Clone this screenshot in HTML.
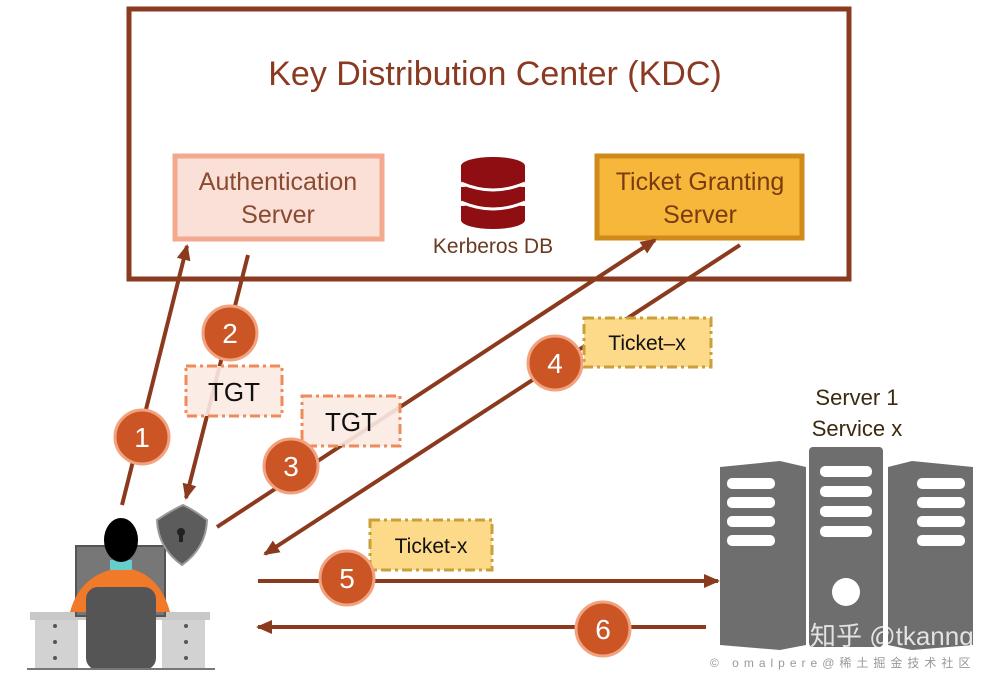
<!DOCTYPE html>
<html><head><meta charset="utf-8"><style>
html,body{margin:0;padding:0;background:#fff}
svg{display:block}
text{font-family:"Liberation Sans",sans-serif}
</style></head><body>
<svg width="1001" height="675" viewBox="0 0 1001 675" xmlns="http://www.w3.org/2000/svg">
<defs>
<marker id="ah" markerWidth="16" markerHeight="16" refX="14" refY="8" orient="auto" markerUnits="userSpaceOnUse" viewBox="0 0 16 16">
<path d="M0,1 L16,8 L0,15 z" fill="#8b3a1e"/></marker>
</defs>
<rect x="129" y="9" width="720" height="270" fill="none" stroke="#8b3a22" stroke-width="5"/>
<text x="495" y="85" font-size="34" fill="#8b3a22" text-anchor="middle">Key Distribution Center (KDC)</text>
<rect x="175" y="156" width="207" height="83" fill="#fae0d6" stroke="#f3a98e" stroke-width="5"/>
<text x="278" y="190" font-size="25" fill="#8a4a32" text-anchor="middle">Authentication</text>
<text x="278" y="223" font-size="25" fill="#8a4a32" text-anchor="middle">Server</text>
<rect x="597" y="156" width="205" height="82" fill="#f6b73a" stroke="#d08a1a" stroke-width="5"/>
<text x="700" y="190" font-size="25" fill="#7a3b10" text-anchor="middle">Ticket Granting</text>
<text x="700" y="223" font-size="25" fill="#7a3b10" text-anchor="middle">Server</text>
<g fill="#8e0e12">
<ellipse cx="493" cy="166" rx="32" ry="9"/>
<rect x="461" y="166" width="64" height="16"/>
<ellipse cx="493" cy="182" rx="32" ry="9"/>
<rect x="461" y="187" width="64" height="14"/>
<ellipse cx="493" cy="201" rx="32" ry="9"/>
<rect x="461" y="206" width="64" height="14"/>
<ellipse cx="493" cy="220" rx="32" ry="9"/>
</g>
<path d="M461,183 Q493,197 525,183 M461,202 Q493,216 525,202" stroke="#fff" stroke-width="3" fill="none"/>
<text x="493" y="253" font-size="21" fill="#6a3a22" text-anchor="middle">Kerberos DB</text>

<g stroke="#8b3a1e" stroke-width="4" fill="none">
<line x1="122" y1="505" x2="187" y2="246" marker-end="url(#ah)"/>
<line x1="248" y1="255" x2="186" y2="498" marker-end="url(#ah)"/>
<line x1="217" y1="527" x2="655" y2="240" marker-end="url(#ah)"/>
<line x1="740" y1="245" x2="265" y2="554" marker-end="url(#ah)"/>
<line x1="258" y1="581" x2="718" y2="581" marker-end="url(#ah)"/>
<line x1="706" y1="627" x2="258" y2="627" marker-end="url(#ah)"/>
</g>

<g stroke-width="3" stroke-dasharray="10,4,3,4">
<rect x="186" y="366" width="96" height="50" fill="#fbeae3" fill-opacity="0.9" stroke="#ef8a5a"/>
<rect x="302" y="396" width="98" height="50" fill="#fbeae3" fill-opacity="0.9" stroke="#ef8a5a"/>
<rect x="584" y="318" width="127" height="49" fill="#fdd98a" stroke="#c9a03a"/>
<rect x="370" y="520" width="122" height="50" fill="#fdd98a" stroke="#c9a03a"/>
</g>
<text x="234" y="401" font-size="26" fill="#111" text-anchor="middle">TGT</text>
<text x="351" y="431" font-size="26" fill="#111" text-anchor="middle">TGT</text>
<text x="647" y="350" font-size="21" fill="#111" text-anchor="middle">Ticket–x</text>
<text x="431" y="553" font-size="21" fill="#111" text-anchor="middle">Ticket-x</text>

<g fill="#cc5526" stroke="#f3a27f" stroke-width="3">
<circle cx="142" cy="437" r="27"/>
<circle cx="230" cy="333" r="27"/>
<circle cx="291" cy="466" r="27"/>
<circle cx="555" cy="363" r="27"/>
<circle cx="347" cy="578" r="27"/>
<circle cx="603" cy="629" r="27"/>
</g>
<g font-size="28" fill="#fff" text-anchor="middle">
<text x="142" y="447">1</text><text x="230" y="343">2</text><text x="291" y="476">3</text>
<text x="555" y="373">4</text><text x="347" y="588">5</text><text x="603" y="639">6</text>
</g>

<!-- person -->
<rect x="30" y="612" width="180" height="8" fill="#c8c8c8"/>
<rect x="35" y="620" width="43" height="48" fill="#d2d2d2"/>
<rect x="162" y="620" width="43" height="48" fill="#d2d2d2"/>
<g fill="#555"><circle cx="55" cy="626" r="2"/><circle cx="55" cy="642" r="2"/><circle cx="55" cy="658" r="2"/><circle cx="186" cy="626" r="2"/><circle cx="186" cy="642" r="2"/><circle cx="186" cy="658" r="2"/></g>
<rect x="76" y="546" width="89" height="70" fill="#777" stroke="#555" stroke-width="2"/>
<path d="M70,612 Q80,575 118,568 L128,568 Q160,575 170,612 Z" fill="#f07a2a"/>
<rect x="110" y="560" width="22" height="10" fill="#6cc"/>
<ellipse cx="121" cy="540" rx="17" ry="22" fill="#000"/>
<rect x="86" y="587" width="70" height="83" rx="12" fill="#555"/>
<rect x="27" y="668" width="188" height="2" fill="#777"/>
<path d="M157,520 Q172,510 183,505 Q194,510 207,520 Q206,548 182,565 Q158,548 157,520Z" fill="#5c5c5c" stroke="#999" stroke-width="2"/>
<circle cx="181" cy="532" r="4" fill="#222"/><rect x="179" y="533" width="4" height="9" fill="#222"/>

<!-- servers -->
<g fill="#6e6e6e">
<path d="M720,467 L780,461 L806,467 L806,645 L780,650 L720,645 Z"/>
<rect x="809" y="447" width="74" height="200" rx="4"/>
<path d="M888,467 L912,461 L973,467 L973,645 L912,650 L888,645 Z"/>
</g>
<g fill="#fff">
<rect x="727" y="478" width="48" height="11" rx="5"/><rect x="727" y="497" width="48" height="11" rx="5"/><rect x="727" y="516" width="48" height="11" rx="5"/><rect x="727" y="535" width="48" height="11" rx="5"/>
<rect x="820" y="466" width="52" height="11" rx="5"/><rect x="820" y="486" width="52" height="11" rx="5"/><rect x="820" y="506" width="52" height="11" rx="5"/><rect x="820" y="526" width="52" height="11" rx="5"/>
<rect x="917" y="478" width="48" height="11" rx="5"/><rect x="917" y="497" width="48" height="11" rx="5"/><rect x="917" y="516" width="48" height="11" rx="5"/><rect x="917" y="535" width="48" height="11" rx="5"/>
<circle cx="846" cy="592" r="14"/>
</g>
<text x="857" y="405" font-size="22" fill="#3a2a10" text-anchor="middle">Server 1</text>
<text x="857" y="436" font-size="22" fill="#3a2a10" text-anchor="middle">Service x</text>
<text x="810" y="645" font-size="26" fill="#fff" fill-opacity="0.8" font-family="'Liberation Sans','Noto Sans CJK SC',sans-serif">知乎 @tkanng</text>
<text x="710" y="667" font-size="12" fill="#999" font-family="'Liberation Sans','Noto Sans CJK SC',sans-serif" letter-spacing="5">© omalpere@稀土掘金技术社区</text>
</svg>
</body></html>
